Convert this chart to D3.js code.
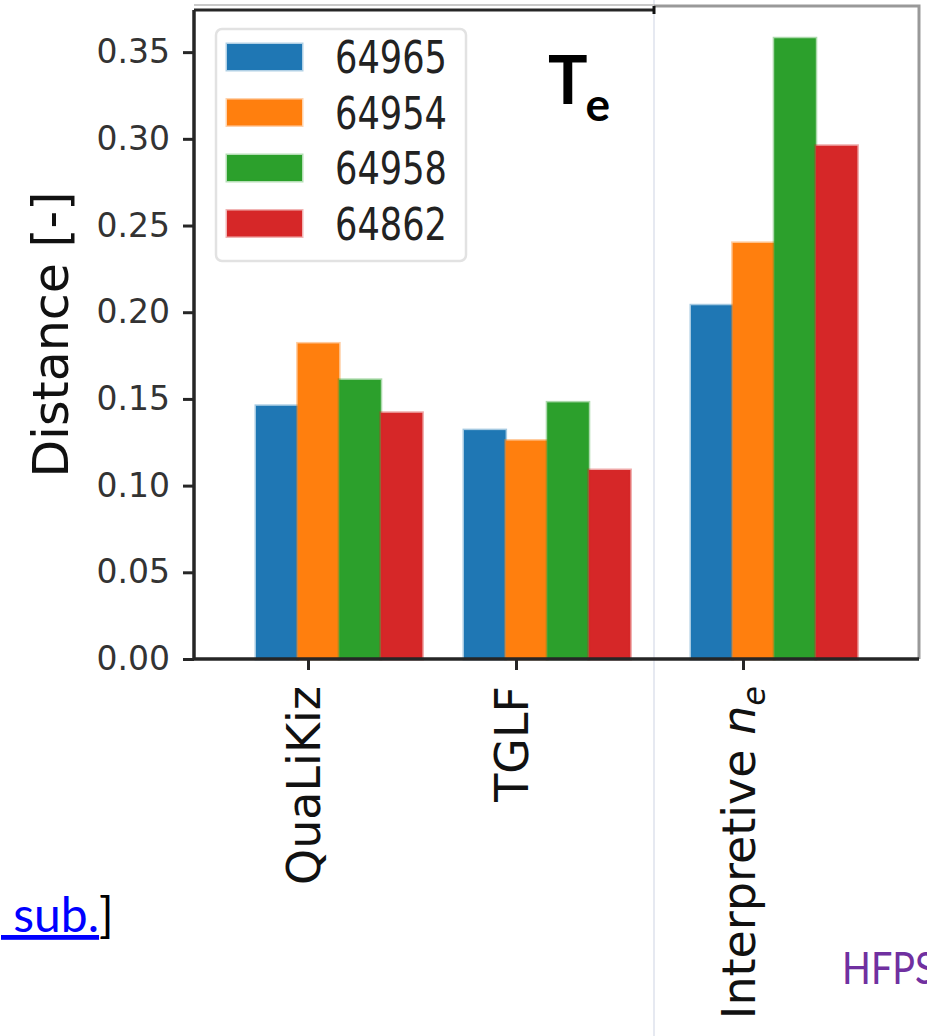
<!DOCTYPE html>
<html>
<head>
<meta charset="utf-8">
<script src="https://cdn.jsdelivr.net/npm/d3@7"></script>
<style>
  body { margin: 0; background: #fff; overflow: hidden; }
  svg { display: block; }
</style>
</head>
<body>
<script>
// data
var categories = ["QuaLiKiz", "TGLF", "Interpretive"]
var shots = ["64965", "64954", "64958", "64862"]
var distQuaLiKiz = [0.146, 0.182, 0.161, 0.142]
var distTGLF = [0.132, 0.126, 0.148, 0.109]
var distInterpretive = [0.204, 0.240, 0.358, 0.296]
var yTicks = [0, 0.05, 0.10, 0.15, 0.20, 0.25, 0.30, 0.35]
var colors = ["#1f77b4", "#ff7f0e", "#2ca02c", "#d62728"]

var width = 927, height = 1036
var plot = { left: 194, right: 919, top: 10, bottom: 659, gap: 654 }
var unit = 208      // px per category step
var barW = 0.2      // bar width in category units

var svg = d3.select("body").append("svg")
  .attr("width", width)
  .attr("height", height)

var y = d3.scaleLinear()
  .domain([0, 0.3743])
  .range([plot.bottom, plot.top])

// the slide glues two figures together: left one has QuaLiKiz + TGLF,
// right one has the interpretive run, so each gets its own x scale
var xLeft = d3.scaleLinear().domain([0, 1]).range([308, 308 + unit])
var xRight = d3.scaleLinear().domain([0, 1]).range([743, 743 + unit])

var groups = [
  { name: categories[0], vals: distQuaLiKiz, x: xLeft, i: 0 },
  { name: categories[1], vals: distTGLF, x: xLeft, i: 1 },
  { name: categories[2], vals: distInterpretive, x: xRight, i: 0 }
]

// slide separator between the two pictures
svg.append("line")
  .attr("x1", plot.gap).attr("x2", plot.gap)
  .attr("y1", 0).attr("y2", height)
  .attr("stroke", "#e6e9f1").attr("stroke-width", 2)

// bars
groups.forEach(function (g) {
  svg.append("g").selectAll("rect")
    .data(g.vals)
    .enter().append("rect")
    .attr("x", function (d, k) { return g.x(g.i + (k - 1.25) * barW) })
    .attr("width", function () { return g.x(barW) - g.x(0) })
    .attr("y", function (d) { return y(d) })
    .attr("height", function (d) { return y(0) - y(d) })
    .attr("fill", function (d, k) { return colors[k] })
    .attr("stroke", function (d, k) { return colors[k] })
    .attr("stroke-opacity", 0.4)
    .attr("stroke-width", 3)
})

// frame of the left figure
svg.append("line")
  .attr("x1", plot.left).attr("x2", plot.gap)
  .attr("y1", 5).attr("y2", 5)
  .attr("stroke", "#c9c9c9").attr("stroke-width", 2)
svg.append("line")
  .attr("x1", plot.left).attr("x2", plot.gap)
  .attr("y1", plot.top).attr("y2", plot.top)
  .attr("stroke", "#262626").attr("stroke-width", 3)
// frame of the right figure (greyer)
svg.append("path")
  .attr("d", "M" + plot.gap + "," + 6 + "H" + plot.right + "V" + plot.bottom)
  .attr("fill", "none")
  .attr("stroke", "#999").attr("stroke-width", 3)
// left + bottom spines
svg.append("line")
  .attr("x1", plot.left).attr("x2", plot.left)
  .attr("y1", plot.top).attr("y2", plot.bottom)
  .attr("stroke", "#262626").attr("stroke-width", 3.5)
svg.append("line")
  .attr("x1", plot.left).attr("x2", plot.right)
  .attr("y1", plot.bottom).attr("y2", plot.bottom)
  .attr("stroke", "#262626").attr("stroke-width", 3.5)
svg.append("line")
  .attr("x1", plot.gap).attr("x2", plot.gap)
  .attr("y1", 6).attr("y2", 14)
  .attr("stroke", "#111").attr("stroke-width", 3)

// y axis
var yAxis = svg.append("g")
  .attr("transform", "translate(" + plot.left + ",0)")
  .call(d3.axisLeft(y).tickValues(yTicks).tickFormat(d3.format(".2f"))
    .tickSize(11).tickPadding(13))
yAxis.select(".domain").remove()
yAxis.selectAll(".tick line").attr("stroke", "#262626").attr("stroke-width", 3)
yAxis.selectAll(".tick text")
  .attr("fill", "#333")
  .style("font-family", "DejaVu Sans")
  .style("font-size", "33px")

svg.append("text")
  .attr("transform", "translate(68," + ((plot.top + plot.bottom) / 2) + ") rotate(-90)")
  .attr("text-anchor", "middle")
  .attr("fill", "#111")
  .style("font-family", "DejaVu Sans")
  .style("font-size", "49px")
  .text("Distance [-]")

// x ticks
var xaL = svg.append("g").attr("transform", "translate(0," + plot.bottom + ")")
  .call(d3.axisBottom(xLeft).tickValues([0, 1]).tickFormat("").tickSize(11))
var xaR = svg.append("g").attr("transform", "translate(0," + plot.bottom + ")")
  .call(d3.axisBottom(xRight).tickValues([0]).tickFormat("").tickSize(11))
;[xaL, xaR].forEach(function (a) {
  a.select(".domain").remove()
  a.selectAll(".tick line").attr("stroke", "#262626").attr("stroke-width", 3)
})

// rotated category labels
groups.forEach(function (g) {
  var t = svg.append("text")
    .attr("transform", "translate(" + (g.x(g.i) + 12) + ",686) rotate(-90)")
    .attr("text-anchor", "end")
    .attr("fill", "#111")
    .style("font-family", "DejaVu Sans")
    .style("font-size", "46px")
  if (g.name === "Interpretive") {
    t.append("tspan").text("Interpretive ")
    t.append("tspan").style("font-style", "italic").text("n")
    t.append("tspan").style("font-style", "italic").style("font-size", "32px")
      .attr("dy", 10).text("e")
  } else {
    t.text(g.name)
  }
})

// legend
var legend = svg.append("g")
legend.append("rect")
  .attr("x", 216).attr("y", 29)
  .attr("width", 250).attr("height", 232)
  .attr("rx", 6)
  .attr("fill", "#fff")
  .attr("stroke", "#e2e2e2").attr("stroke-width", 2.5)
var items = legend.selectAll("g.item")
  .data(shots)
  .enter().append("g")
  .attr("class", "item")
  .attr("transform", function (d, i) { return "translate(0," + (57 + i * 55.5) + ")" })
items.append("rect")
  .attr("x", 227).attr("y", -13)
  .attr("width", 75).attr("height", 26)
  .attr("fill", function (d, i) { return colors[i] })
  .attr("stroke", function (d, i) { return colors[i] })
  .attr("stroke-opacity", 0.35)
  .attr("stroke-width", 3)
items.append("text")
  .attr("x", 335).attr("y", 16)
  .attr("textLength", 112)
  .attr("lengthAdjust", "spacingAndGlyphs")
  .attr("fill", "#222")
  .style("font-family", "DejaVu Sans")
  .style("font-size", "44px")
  .text(function (d) { return d })

// T_e panel tag
var tag = svg.append("text")
  .attr("x", 548).attr("y", 104)
  .attr("fill", "#000")
  .style("font-family", "Lato")
  .style("font-weight", "bold")
  .style("font-size", "66px")
tag.append("tspan").text("T")
tag.append("tspan").attr("dy", 17).attr("dx", -2).style("font-size", "46px").text("e")

// slide leftovers
var ref = svg.append("text")
  .attr("x", 1).attr("y", 932)
  .style("font-family", "Lato")
  .style("font-size", "48px")
ref.append("tspan").attr("fill", "#0000ff").style("text-decoration", "underline").text("\u00a0sub.")
ref.append("tspan").attr("fill", "#000").text("]")

// cut off by the right edge of the crop, as on the slide
svg.append("text")
  .attr("transform", "translate(842,984) scale(0.86,1)")
  .attr("fill", "#7030a0")
  .style("font-family", "Lato")
  .style("font-size", "44px")
  .text("HFPS")
</script>
</body>
</html>
